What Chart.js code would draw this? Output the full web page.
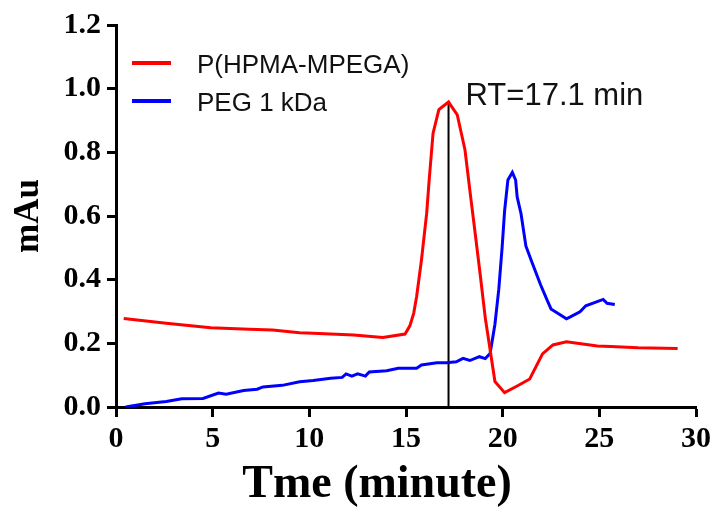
<!DOCTYPE html>
<html>
<head>
<meta charset="utf-8">
<script src="https://cdn.jsdelivr.net/npm/chart.js@4.4.0/dist/chart.umd.min.js"></script>
<style>
  html, body { margin: 0; padding: 0; background: #fff; }
  #wrap { width: 715px; height: 508px; }
</style>
</head>
<body>
<div id="wrap"><canvas id="gpcChart"></canvas></div>
<script>
// P(HPMA-MPEGA) trace
const redTime = [0.4, 2.6, 4.9, 6.9, 8.1, 9.5, 10.2, 12.3, 13.8, 14.95, 15.2, 15.4, 15.55, 15.8, 16.07, 16.2, 16.4, 16.7, 17.2, 17.65, 18.05, 18.3, 18.6, 18.83, 19.1, 19.3, 19.6, 20.1, 20.75, 21.4, 22.06, 22.6, 23.3, 24.9, 25.6, 27.0, 29.05];
const redValue = [0.278, 0.263, 0.249, 0.244, 0.242, 0.233, 0.232, 0.226, 0.218, 0.229, 0.255, 0.295, 0.347, 0.462, 0.609, 0.714, 0.86, 0.934, 0.958, 0.918, 0.808, 0.682, 0.535, 0.42, 0.28, 0.2, 0.08, 0.045, 0.066, 0.088, 0.167, 0.195, 0.205, 0.192, 0.19, 0.186, 0.184];

// PEG 1 kDa trace
const blueTime = [0.5, 1.5, 2.6, 3.4, 4.5, 5.3, 5.7, 6.6, 7.3, 7.6, 8.6, 9.5, 10.2, 11.1, 11.7, 11.9, 12.2, 12.5, 12.9, 13.1, 14.0, 14.6, 15.55, 15.8, 16.6, 17.1, 17.6, 17.95, 18.3, 18.8, 19.1, 19.35, 19.6, 19.8, 19.97, 20.1, 20.27, 20.5, 20.67, 20.75, 20.95, 21.2, 21.5, 21.96, 22.3, 22.5, 23.3, 23.5, 24.0, 24.3, 25.2, 25.4, 25.8];
const blueValue = [0.0, 0.01, 0.017, 0.026, 0.027, 0.044, 0.04, 0.052, 0.056, 0.063, 0.068, 0.079, 0.083, 0.09, 0.093, 0.104, 0.097, 0.104, 0.097, 0.11, 0.114, 0.122, 0.122, 0.132, 0.139, 0.139, 0.142, 0.153, 0.146, 0.158, 0.152, 0.168, 0.26, 0.37, 0.5, 0.616, 0.713, 0.737, 0.713, 0.66, 0.607, 0.506, 0.457, 0.384, 0.336, 0.308, 0.277, 0.283, 0.299, 0.318, 0.338, 0.326, 0.322];

const seriesNames = ["P(HPMA-MPEGA)", "PEG 1 kDa"];
const xTicks = [0, 5, 10, 15, 20, 25, 30];
const yTicks = [0, 0.2, 0.4, 0.6, 0.8, 1.0, 1.2];
const xTitle = "Tme (minute)";

const rtTime = 17.2;
const rtPeak = 0.958;
const rtLabel = "RT=17.1 min";

const toPoints = (xs, ys) => xs.map((x, i) => ({ x: x, y: ys[i] }));

// legend, RT label and x title drawn on the canvas
const extras = {
  id: "extras",
  afterDatasetsDraw(chart) {
    const ctx = chart.ctx;
    const area = chart.chartArea;
    const xs = chart.scales.x, ys = chart.scales.y;
    ctx.save();
    ctx.font = "26px 'Liberation Sans', Arial, sans-serif";
    ctx.textBaseline = "alphabetic";
    ctx.textAlign = "left";
    const rows = [63, 101];
    chart.data.datasets.slice(0, 2).forEach((ds, i) => {
      ctx.strokeStyle = ds.borderColor;
      ctx.lineWidth = 4;
      ctx.beginPath();
      ctx.moveTo(area.left + 16, rows[i]);
      ctx.lineTo(area.left + 55, rows[i]);
      ctx.stroke();
      ctx.fillStyle = "#111";
      ctx.fillText(ds.label, area.left + 81, rows[i] + 10);
    });
    ctx.font = "31px 'Liberation Sans', Arial, sans-serif";
    ctx.fillText(rtLabel, xs.getPixelForValue(rtTime) + 17, ys.getPixelForValue(rtPeak) + 3);

    ctx.fillStyle = "#000";
    ctx.textAlign = "center";
    ctx.font = "bold 46px 'Liberation Serif', 'Times New Roman', serif";
    ctx.fillText(xTitle, 377, 497);
    ctx.restore();
  }
};

new Chart(document.getElementById("gpcChart"), {
  type: "scatter",
  data: {
    datasets: [{
      label: seriesNames[0],
      data: toPoints(redTime, redValue),
      showLine: true,
      borderColor: "#ff0000",
      borderWidth: 3,
      pointRadius: 0,
      tension: 0
    }, {
      label: seriesNames[1],
      data: toPoints(blueTime, blueValue),
      showLine: true,
      borderColor: "#0000ff",
      borderWidth: 3,
      pointRadius: 0,
      tension: 0
    }, {
      label: "RT",
      data: [{ x: rtTime, y: 0 }, { x: rtTime, y: rtPeak }],
      showLine: true,
      borderColor: "#000",
      borderWidth: 2,
      pointRadius: 0
    }]
  },
  options: {
    responsive: true,
    maintainAspectRatio: false,
    animation: false,
    layout: { padding: { top: 25, right: 19, left: 0, bottom: 0 } },
    plugins: {
      legend: { display: false },
      tooltip: { enabled: false }
    },
    scales: {
      x: {
        type: "linear",
        min: 0,
        max: 30,
        afterFit: s => { s.height = 101; },
        afterBuildTicks: s => { s.ticks = xTicks.map(v => ({ value: v })); },
        grid: { drawOnChartArea: false, drawTicks: true, tickLength: 10, tickWidth: 3, tickColor: "#000" },
        border: { display: true, width: 3, color: "#000" },
        ticks: {
          padding: 4,
          color: "#000",
          font: { family: "'Liberation Serif', 'Times New Roman', serif", size: 30, weight: "bold" }
        },
        title: { display: false }
      },
      y: {
        min: 0,
        max: 1.2,
        afterFit: s => { s.width = 116; },
        afterBuildTicks: s => { s.ticks = yTicks.map(v => ({ value: v })); },
        grid: { drawOnChartArea: false, drawTicks: true, tickLength: 9, tickWidth: 3, tickColor: "#000" },
        border: { display: true, width: 3, color: "#000" },
        ticks: {
          padding: 6,
          color: "#000",
          callback: v => v.toFixed(1),
          font: { family: "'Liberation Serif', 'Times New Roman', serif", size: 30, weight: "bold" }
        },
        title: {
          display: true,
          text: "mAu",
          color: "#000",
          padding: { top: 8, bottom: 0 },
          font: { family: "'Liberation Serif', 'Times New Roman', serif", size: 35, weight: "bold" }
        }
      }
    }
  },
  plugins: [extras]
});
</script>
</body>
</html>
